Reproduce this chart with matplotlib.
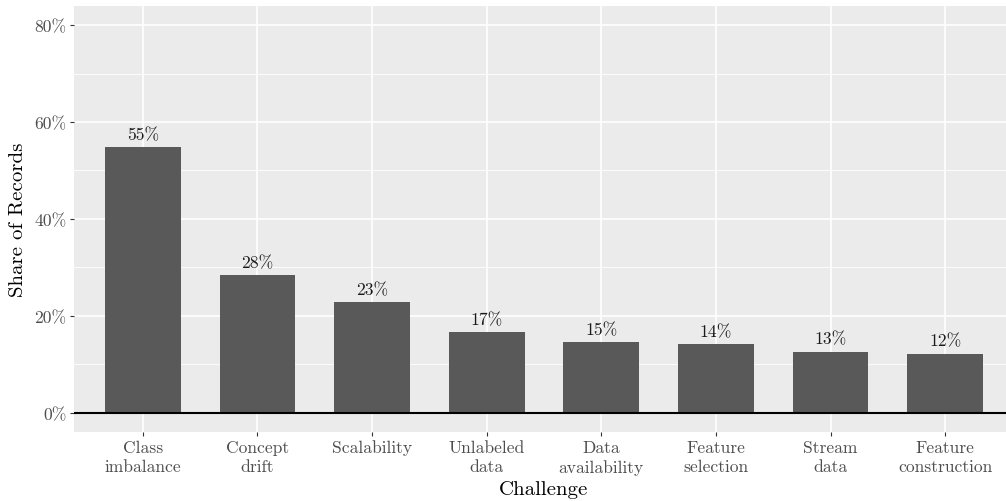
import matplotlib
matplotlib.use("Agg")
import matplotlib.pyplot as plt
import numpy as np

categories = ["Class\nimbalance", "Concept\ndrift", "Scalability", "Unlabeled\ndata",
              "Data\navailability", "Feature\nselection", "Stream\ndata", "Feature\nconstruction"]
shares = [54.9, 28.4, 22.9, 16.7, 14.6, 14.2, 12.6, 12.2]
labels = ["55%", "28%", "23%", "17%", "15%", "14%", "13%", "12%"]
y_ticks = [0, 20, 40, 60, 80]
y_tick_labels = ["0%", "20%", "40%", "60%", "80%"]
y_minor = [10, 30, 50, 70]

plt.rcParams['font.family'] = ['cmr10', 'DejaVu Serif']
plt.rcParams['axes.formatter.use_mathtext'] = True

fig = plt.figure(figsize=(10.06, 5.02), dpi=100)
ax = fig.add_axes([74/1006, (502-433)/502, (1014-74)/1006, (433-6.7)/502])
ax.set_facecolor('#EBEBEB')
for s in ax.spines.values():
    s.set_visible(False)

x = np.arange(1, len(categories) + 1)
ax.set_xlim(0.4, 8.6)
ax.set_ylim(-4.0, 84.0)

ax.set_yticks(y_ticks)
ax.set_yticklabels(y_tick_labels)
ax.set_yticks(y_minor, minor=True)
ax.set_xticks(x)
ax.set_xticklabels(categories, linespacing=1.3)

ax.grid(which='major', color='white', linewidth=1.2)
ax.grid(which='minor', axis='y', color='white', linewidth=0.6)
ax.set_axisbelow(True)

ax.tick_params(axis='both', which='major', length=3.0, width=0.8, color='#333333',
               labelcolor='#4D4D4D', labelsize=12.6, pad=2.5)
ax.tick_params(axis='both', which='minor', length=0)

ax.bar(x, shares, width=0.66, color='#595959', zorder=2)
ax.axhline(0, color='black', linewidth=1.5, zorder=3)

for xi, v, lab in zip(x, shares, labels):
    ax.annotate(lab, (xi, v), xytext=(0, 3.5), textcoords='offset points',
                ha='center', va='bottom', fontsize=12.7, color='#1A1A1A', zorder=4)

ax.set_xlabel("Challenge", fontsize=15, labelpad=4)
ax.set_ylabel("Share of Records", fontsize=15, labelpad=5)

fig.savefig("out.png", dpi=100)
